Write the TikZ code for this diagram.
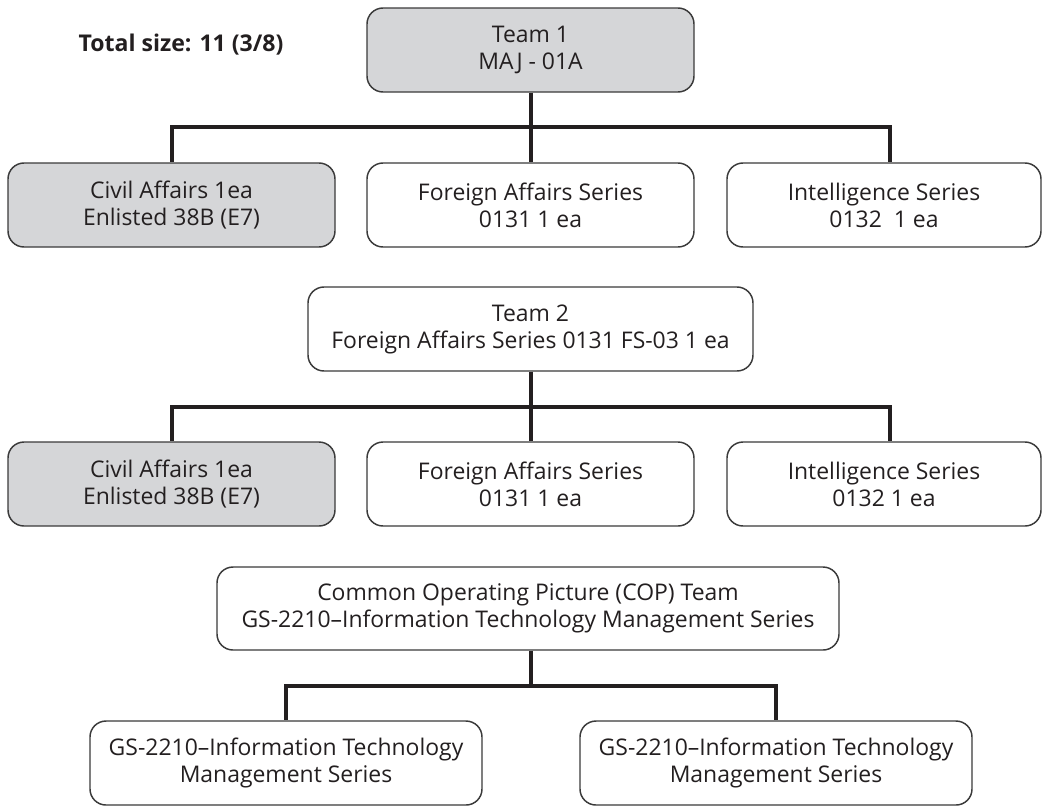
\documentclass[tikz,border=0pt]{standalone}
\usepackage{fontspec}
\setmainfont{Open Sans}
\definecolor{ink}{HTML}{231F20}
\definecolor{edge}{HTML}{3A3A3A}
\definecolor{shade}{HTML}{D5D6D8}
\newcommand{\boxfont}{\fontsize{17.2}{20.3}\selectfont}
\begin{document}
\begin{tikzpicture}[x=0.75pt, y=-0.75pt,
  box/.style={draw=edge, line width=1.1pt, rounded corners=12pt, align=center,
              inner sep=0pt, text=ink, font=\boxfont, minimum height=63pt},
  greybox/.style={box, fill=shade},
  whitebox/.style={box, fill=white},
  bus/.style={draw=ink, line width=3pt, line cap=rect},
  drop/.style={draw=ink, line width=3pt},
]
\path[use as bounding box] (0,0) rectangle (1042,808);

% title
\node[text=ink, font=\fontsize{17.3}{20}\selectfont\bfseries] (title) at (181,45) {Total size: 11 (3/8)};

% Team 1
\node[greybox, minimum width=245.25pt] (t1) at (530.5,50) {Team 1\\MAJ - 01A};
\node[greybox, minimum width=245.25pt] (a1) at (171.5,205) {Civil Affairs 1ea\\Enlisted 38B (E7)};
\node[whitebox, minimum width=245.25pt] (a2) at (530.5,205) {Foreign Affairs Series\\0131 1 ea};
\node[whitebox, minimum width=235.5pt] (a3) at (884,205) {Intelligence Series\\0132\ \ 1 ea};

\coordinate (j11) at (172,127);
\coordinate (j12) at (531,127);
\coordinate (j13) at (890,127);
\draw[bus] (j11) -- (j13);
\draw[drop] (t1.south -| j12) -- (j12);
\draw[drop] (j11) -- (j11 |- a1.north);
\draw[drop] (j12) -- (j12 |- a2.north);
\draw[drop] (j13) -- (j13 |- a3.north);

% Team 2
\node[whitebox, minimum width=333.75pt] (t2) at (530.5,329) {Team 2\\Foreign Affairs Series 0131 FS-03 1 ea};
\node[greybox, minimum width=245.25pt] (b1) at (171.5,484) {Civil Affairs 1ea\\Enlisted 38B (E7)};
\node[whitebox, minimum width=245.25pt] (b2) at (530.5,484) {Foreign Affairs Series\\0131 1 ea};
\node[whitebox, minimum width=235.5pt] (b3) at (884,484) {Intelligence Series\\0132 1 ea};

\coordinate (j21) at (172,407);
\coordinate (j22) at (531,407);
\coordinate (j23) at (890,407);
\draw[bus] (j21) -- (j23);
\draw[drop] (t2.south -| j22) -- (j22);
\draw[drop] (j21) -- (j21 |- b1.north);
\draw[drop] (j22) -- (j22 |- b2.north);
\draw[drop] (j23) -- (j23 |- b3.north);

% COP team
\node[whitebox, minimum width=466.5pt, minimum height=62.25pt] (cop) at (528,608.5)
  {Common Operating Picture (COP) Team\\GS-2210--Information Technology Management Series};
\node[whitebox, minimum width=294pt] (c1) at (286,763) {GS-2210--Information Technology\\Management Series};
\node[whitebox, minimum width=294pt] (c2) at (776,763) {GS-2210--Information Technology\\Management Series};

\coordinate (j31) at (286,686);
\coordinate (j32) at (531,686);
\coordinate (j33) at (776,686);
\draw[bus] (j31) -- (j33);
\draw[drop] (cop.south -| j32) -- (j32);
\draw[drop] (j31) -- (j31 |- c1.north);
\draw[drop] (j33) -- (j33 |- c2.north);
\end{tikzpicture}
\end{document}
